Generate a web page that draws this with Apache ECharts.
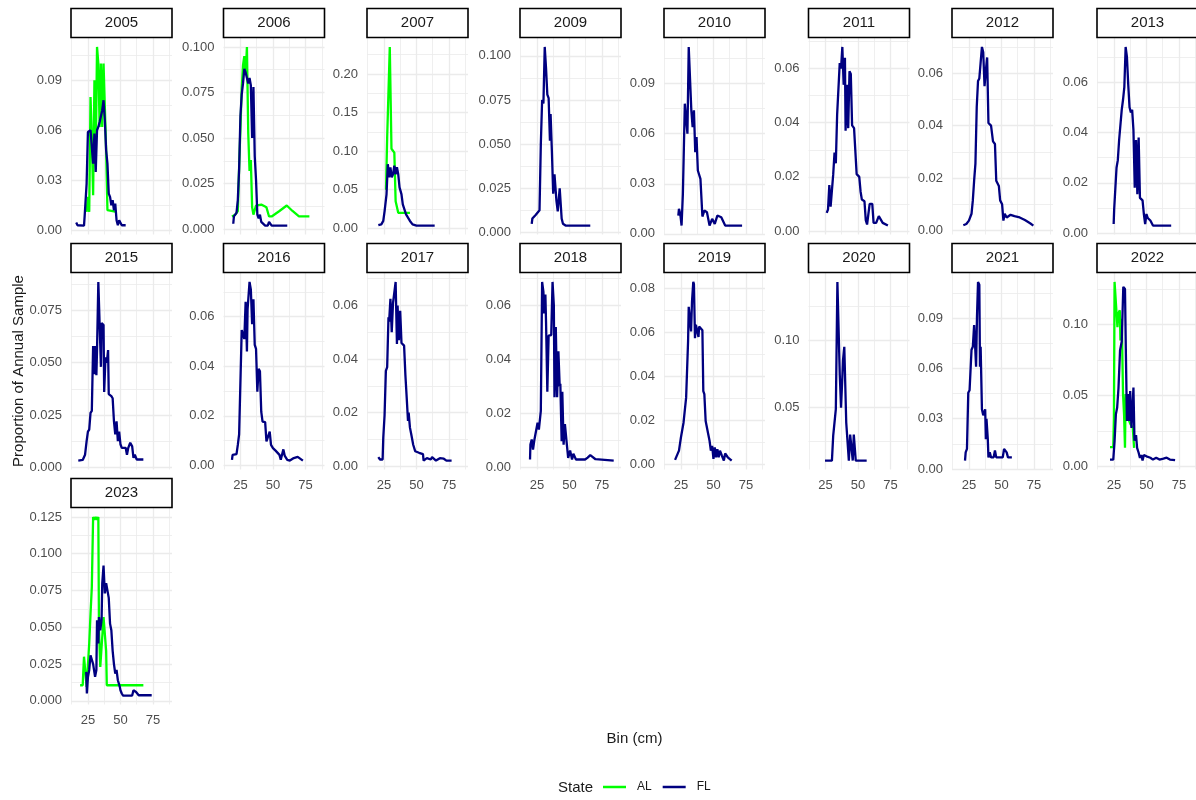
<!DOCTYPE html>
<html><head><meta charset="utf-8">
<script src="https://cdn.jsdelivr.net/npm/echarts@6/dist/echarts.min.js"></script>
<style>html,body{margin:0;padding:0;background:#fff}#c{width:1196px;height:800px}</style>
</head><body><div id="c"></div>
<script>
// ---------- data: [bin (cm), proportion] ----------
const years = ['2005','2006','2007','2009','2010','2011','2012','2013','2015','2016','2017','2018','2019','2020','2021','2022','2023'];

const fl2005 = [[16,0.0046],[17,0.003],[22,0.0028],[22.5,0.0086],[24,0.028],[25,0.059],[26,0.058],[27,0.06],[28,0.06],[29,0.04],[30,0.058],[31,0.035],[32,0.06],[33,0.062],[34,0.065],[35,0.066],[36,0.072],[37,0.078],[38,0.066],[39,0.048],[40,0.04],[41,0.022],[42,0.02],[43,0.015],[44,0.018],[45,0.012],[46,0.016],[47,0.006],[48,0.003],[49,0.006],[50,0.006],[51,0.003],[54,0.003]];
const al2005 = [[24,0.011],[25,0.02],[26,0.011],[27,0.08],[28,0.055],[29,0.021],[30,0.09],[31,0.045],[32,0.11],[33,0.1],[34,0.062],[35,0.1],[36,0.062],[37,0.1],[38,0.1],[39,0.048],[40,0.012],[41,0.011],[47,0.011]];
const fl2006 = [[19.5,0.003],[20,0.007],[21,0.008],[22,0.009],[23,0.016],[24,0.033],[25,0.062],[26,0.074],[27,0.08],[28,0.088],[29,0.086],[30,0.083],[31,0.08],[32,0.083],[33,0.079],[34,0.05],[35,0.078],[36,0.04],[37,0.027],[38,0.008],[39,0.006],[40,0.008],[41,0.004],[42,0.004],[44,0.002],[46,0.002],[47,0.004],[48,0.004],[49,0.002],[61,0.002]];
const al2006 = [[18.5,0.007],[20,0.007],[21,0.008],[23,0.01],[24,0.034],[25,0.055],[26,0.077],[27,0.09],[28,0.095],[29,0.085],[30,0.1],[31,0.053],[32,0.032],[33,0.038],[34,0.012],[35,0.008],[36,0.008],[37,0.013],[41,0.0135],[45,0.012],[47,0.007],[49,0.007],[55,0.01],[60.6,0.013],[65,0.01],[70,0.007],[78,0.007]];
const fl2007 = [[20.7,0.004],[23,0.005],[24.5,0.0095],[25.5,0.022],[27,0.044],[28,0.083],[29,0.066],[30,0.079],[31,0.066],[32,0.07],[33,0.081],[34,0.07],[35,0.079],[36,0.07],[37,0.053],[38.5,0.044],[39.5,0.031],[42,0.018],[45,0.0095],[47,0.005],[50,0.0035],[64,0.0035]];
const al2007 = [[26.6,0.05],[27.5,0.118],[29,0.12],[29.5,0.235],[30.3,0.235],[30.8,0.103],[33,0.098],[34,0.035],[35,0.033],[36,0.02],[45,0.02]];
const fl2009 = [[21,0.005],[21.5,0.008],[24,0.01],[27,0.0126],[28,0.05],[29,0.075],[30,0.073],[31,0.105],[32,0.093],[33,0.078],[34,0.076],[35,0.052],[35.5,0.067],[36.5,0.046],[37.5,0.022],[38.5,0.033],[40,0.018],[41,0.012],[42.5,0.025],[44,0.008],[45,0.005],[47,0.004],[66,0.004]];
const fl2010 = [[23,0.011],[23.5,0.015],[24.5,0.012],[25.5,0.005],[26.5,0.024],[28,0.078],[29,0.077],[30,0.06],[31,0.112],[31.5,0.112],[33,0.074],[34,0.064],[35,0.074],[36,0.049],[37,0.058],[38,0.038],[40,0.033],[41.5,0.0104],[43,0.014],[45,0.013],[47,0.005],[49,0.009],[51,0.006],[53,0.011],[56,0.01],[59,0.005],[72,0.005]];
const fl2011 = [[26,0.0067],[27,0.008],[28,0.017],[29,0.009],[30,0.015],[31,0.021],[32,0.029],[33,0.025],[34,0.043],[35,0.043],[36,0.062],[37,0.06],[38,0.068],[39,0.054],[40,0.064],[40.5,0.037],[41.5,0.054],[42.5,0.038],[43.5,0.059],[44.5,0.058],[45.5,0.039],[47,0.038],[49,0.021],[51,0.02],[52,0.0146],[53,0.0116],[55,0.011],[56,0.004],[57,0.0024],[59,0.01],[61,0.01],[62,0.003],[64,0.003],[66,0.0055],[69,0.003],[73,0.002]];
const fl2012 = [[20.7,0.002],[23,0.0025],[25,0.0038],[27,0.0064],[28,0.0115],[29,0.019],[30,0.0255],[31,0.047],[32,0.057],[33,0.058],[34,0.064],[35,0.07],[36,0.068],[37,0.055],[38,0.061],[39,0.066],[40,0.041],[42,0.04],[43.5,0.034],[45,0.033],[46,0.019],[48,0.017],[49,0.0115],[50.5,0.01],[51.5,0.0038],[52.5,0.0064],[54,0.005],[57,0.006],[60,0.0055],[64,0.005],[68,0.004],[72,0.0028],[74.5,0.0019]];
const fl2013 = [[24.8,0.0036],[25.2,0.0096],[26,0.009],[27,0.026],[28,0.029],[29,0.037],[31,0.049],[32,0.053],[33,0.058],[34,0.074],[35,0.07],[36,0.059],[37,0.05],[38,0.048],[39,0.049],[40,0.041],[41,0.018],[42,0.037],[43,0.0155],[44,0.038],[45,0.014],[47,0.013],[48,0.0076],[49,0.0036],[50,0.0076],[51,0.006],[53,0.005],[55,0.003],[69,0.003]];
const fl2015 = [[17.6,0.0032],[21,0.0035],[22.8,0.006],[24,0.0125],[25,0.017],[26,0.018],[27,0.026],[28,0.027],[29,0.058],[30,0.0445],[30.5,0.058],[31.5,0.044],[32,0.056],[33,0.0886],[34,0.088],[35,0.048],[35.5,0.069],[37,0.068],[37.5,0.036],[38.5,0.0526],[39.5,0.05],[40.5,0.056],[41,0.035],[43,0.034],[44,0.033],[45,0.022],[46,0.0157],[47,0.022],[48,0.0125],[49,0.017],[50,0.011],[51,0.0093],[54,0.0093],[55,0.006],[56,0.0093],[57.5,0.0117],[59,0.01],[60,0.0045],[61,0.006],[62.5,0.0037],[67.6,0.0037]];
const fl2016 = [[18.5,0.0023],[19,0.0043],[22,0.0046],[23,0.0083],[24,0.0126],[25,0.0126],[26,0.0546],[27,0.054],[28,0.051],[29,0.066],[30,0.046],[30.5,0.063],[32,0.074],[33,0.071],[34,0.057],[35,0.067],[36,0.0486],[37,0.047],[38,0.0298],[39,0.039],[40,0.038],[41,0.0217],[42,0.0177],[44,0.0175],[45,0.0097],[46.5,0.009],[47.5,0.0137],[48.5,0.0083],[50,0.007],[52,0.006],[55,0.0043],[56,0.0023],[58,0.0065],[59,0.004],[61,0.0023],[63,0.002],[66,0.003],[69,0.0035],[73,0.002]];
const fl2017 = [[20.7,0.0034],[22,0.0025],[24,0.0025],[24.5,0.0106],[25.5,0.019],[26.5,0.0356],[27.5,0.037],[28.5,0.0556],[29,0.054],[30,0.0625],[31,0.05],[32,0.061],[33,0.061],[34,0.0688],[35,0.0456],[35.5,0.06],[36.5,0.047],[37.5,0.058],[38.5,0.046],[40.5,0.045],[41.5,0.034],[42.5,0.0256],[43.5,0.0169],[44,0.02],[45,0.0144],[46,0.0119],[47.5,0.008],[49,0.0056],[52,0.005],[55,0.0045],[55.5,0.0021],[58,0.003],[61,0.0025],[62,0.0034],[65,0.0021],[68,0.003],[71,0.0028],[73,0.0021],[77,0.0021]];
const fl2018 = [[19.7,0.0029],[20,0.0084],[21,0.0103],[22,0.0066],[23,0.01],[24,0.0103],[25.5,0.0165],[26.5,0.014],[28,0.0209],[29,0.0687],[30,0.065],[30.5,0.057],[31.5,0.064],[32,0.054],[33,0.028],[34,0.0488],[35,0.0488],[36,0.049],[37,0.0687],[38,0.06],[38.5,0.026],[39.5,0.052],[40.5,0.026],[41.5,0.043],[42.5,0.03],[43,0.031],[44,0.0097],[44.5,0.028],[45.5,0.0084],[46.5,0.016],[48,0.0084],[49,0.0035],[50.5,0.0062],[52,0.0029],[53,0.005],[55,0.0029],[62,0.0029],[64,0.0036],[66,0.0045],[67,0.0047],[70,0.003],[84,0.0025]];
const fl2019 = [[20.5,0.0021],[22,0.0025],[23.5,0.0063],[24.5,0.007],[25,0.0123],[26,0.013],[27,0.019],[28,0.019],[29,0.0304],[30,0.03],[30.5,0.056],[31,0.0717],[32,0.071],[32.8,0.0605],[33.5,0.074],[34.5,0.083],[35,0.082],[35.8,0.0574],[36.5,0.0635],[37.5,0.0635],[38.5,0.058],[39,0.0627],[40.5,0.0627],[41.5,0.061],[42.2,0.0334],[43,0.032],[44,0.0198],[45,0.019],[46,0.0138],[47,0.0108],[48,0.0063],[49,0.0085],[50,0.0026],[51,0.0078],[52,0.0033],[53,0.007],[54,0.0033],[55,0.0063],[56.5,0.004],[58,0.0018],[59,0.005],[61,0.0033],[64,0.0018]];
const fl2020 = [[24.7,0.0108],[30,0.0108],[31,0.0295],[32,0.03],[33,0.0488],[33.5,0.0488],[34.2,0.143],[35.3,0.143],[36,0.075],[37,0.05],[38,0.0725],[38.5,0.085],[39.5,0.095],[40.5,0.095],[41,0.0388],[42.3,0.0388],[43,0.0108],[44,0.03],[45,0.03],[46,0.0108],[46.8,0.03],[47.5,0.03],[48.3,0.0108],[56.7,0.0108]];
const fl2021 = [[22,0.005],[22.5,0.0099],[23.5,0.012],[24.5,0.0455],[25.5,0.047],[27,0.0712],[28,0.073],[29,0.086],[30,0.087],[30.5,0.061],[31.2,0.091],[32,0.1117],[33,0.11],[33.5,0.061],[34,0.073],[35,0.0356],[36,0.032],[37.5,0.0356],[38,0.0178],[38.5,0.03],[39.5,0.0178],[40,0.0069],[41,0.0099],[42,0.0069],[44,0.0069],[45,0.011],[46,0.0069],[51,0.0069],[52,0.0119],[54,0.0099],[55,0.0069],[58,0.0069]];
const fl2022 = [[22,0.0047],[24.5,0.0047],[25.5,0.0177],[26.5,0.0366],[27.5,0.0414],[28.5,0.055],[29.7,0.0816],[31,0.088],[32.2,0.1265],[33.5,0.125],[34.2,0.079],[35,0.032],[35.8,0.051],[36.8,0.032],[37.5,0.053],[38.5,0.027],[39.3,0.041],[40,0.0555],[40.8,0.018],[42,0.022],[42.8,0.013],[44,0.0095],[45,0.0059],[46,0.008],[47,0.004],[48,0.008],[50,0.007],[53,0.006],[55,0.0047],[57.5,0.006],[60,0.0047],[63,0.0054],[65.5,0.006],[68,0.0047],[72,0.0043]];
const al2022 = [[22,0.0135],[24.5,0.0135],[25,0.034],[25.5,0.13],[27,0.129],[27.7,0.098],[28.3,0.1075],[29.5,0.11],[30,0.0887],[31,0.104],[32,0.051],[32.8,0.0366],[33.5,0.013],[34,0.051],[35.5,0.035],[37.5,0.03],[39.5,0.027],[40.5,0.013]];
const fl2023 = [[23.7,0.0197],[24.2,0.005],[25,0.016],[26,0.021],[27,0.031],[28,0.03],[29,0.025],[30.5,0.0163],[31.5,0.021],[32,0.0548],[33,0.039],[33.5,0.057],[34.5,0.048],[35.5,0.055],[36,0.0797],[37,0.092],[38,0.073],[39,0.08],[40,0.08],[41,0.07],[42,0.0525],[43,0.048],[44,0.034],[45,0.025],[46,0.0186],[47,0.021],[48,0.014],[49.5,0.0095],[50,0.0072],[51,0.005],[52,0.0036],[59,0.0036],[60,0.0072],[62,0.006],[64,0.0038],[74,0.0038]];
const al2023 = [[19,0.0106],[21,0.0106],[21.5,0.021],[22,0.03],[23,0.029],[24,0.0095],[25,0.0106],[26,0.039],[27,0.059],[28,0.0775],[29,0.125],[30,0.123],[31,0.125],[32,0.123],[33,0.125],[33.5,0.048],[34.5,0.023],[36,0.022],[37,0.057],[38,0.057],[39,0.034],[39.5,0.0106],[67.6,0.0106]];

// ---------- tick labels ----------
const xTicks = [25, 50, 75];
const yTicks2005 = [0, 0.03, 0.06, 0.09];
const yTicks2006 = [0, 0.025, 0.05, 0.075, 0.1];
const yTicks2007 = [0, 0.05, 0.1, 0.15, 0.2];
const yTicks2009 = [0, 0.025, 0.05, 0.075, 0.1];
const yTicks2010 = [0, 0.03, 0.06, 0.09];
const yTicks2011 = [0, 0.02, 0.04, 0.06];
const yTicks2012 = [0, 0.02, 0.04, 0.06];
const yTicks2013 = [0, 0.02, 0.04, 0.06];
const yTicks2015 = [0, 0.025, 0.05, 0.075];
const yTicks2016 = [0, 0.02, 0.04, 0.06];
const yTicks2017 = [0, 0.02, 0.04, 0.06];
const yTicks2018 = [0, 0.02, 0.04, 0.06];
const yTicks2019 = [0, 0.02, 0.04, 0.06, 0.08];
const yTicks2020 = [0.05, 0.1];
const yTicks2021 = [0, 0.03, 0.06, 0.09];
const yTicks2022 = [0, 0.05, 0.1];
const yTicks2023 = [0, 0.025, 0.05, 0.075, 0.1, 0.125];

const flData = [fl2005,fl2006,fl2007,fl2009,fl2010,fl2011,fl2012,fl2013,fl2015,fl2016,fl2017,fl2018,fl2019,fl2020,fl2021,fl2022,fl2023];
const alData = [al2005,al2006,al2007,null,null,null,null,null,null,null,null,null,null,null,null,al2022,al2023];
const yTicks = [yTicks2005,yTicks2006,yTicks2007,yTicks2009,yTicks2010,yTicks2011,yTicks2012,yTicks2013,yTicks2015,yTicks2016,yTicks2017,yTicks2018,yTicks2019,yTicks2020,yTicks2021,yTicks2022,yTicks2023];
const yDecimals = [2,3,2,3,2,2,2,2,3,2,2,2,2,2,2,2,3];

// ---------- layout ----------
const FONT = "'Liberation Sans', Arial, Helvetica, sans-serif";
const colLeft = [71, 223.5, 367, 520, 664, 808.5, 952, 1097];
const rowTop = [38, 273, 508];
const PW = 101, PH = 196.5, STRIP = 29;
const X_MIN = 12, X_MAX = 89.6;
const AL_COLOR = '#00ff00', FL_COLOR = '#000080';
const GRID_COLOR = '#ebebeb';
const LINE_W = 2.3;

const grids = [], xAxes = [], yAxes = [], series = [], graphics = [];

years.forEach((yr, i) => {
  const col = i % 8, row = Math.floor(i / 8);
  const left = colLeft[col], top = rowTop[row];
  grids.push({left, top, width: PW, height: PH, containLabel: false, outerBoundsMode: 'none'});

  const showX = (i + 8 >= years.length);
  const xMinor = [12.5, 37.5, 62.5, 87.5];
  xAxes.push({
    gridIndex: i, type: 'value', min: X_MIN, max: X_MAX, position: 'bottom',
    axisLine: {show: false}, axisTick: {show: false, customValues: xTicks},
    axisLabel: {show: showX, customValues: xTicks, margin: 9, color: '#4d4d4d', fontSize: 13, fontFamily: FONT},
    splitLine: {show: true, lineStyle: {color: GRID_COLOR, width: 1.3}}
  });
  xAxes.push({
    gridIndex: i, type: 'value', min: X_MIN, max: X_MAX, position: 'top',
    axisLine: {show: false}, axisTick: {show: false, customValues: xMinor},
    axisLabel: {show: false},
    splitLine: {show: true, lineStyle: {color: GRID_COLOR, width: 0.8}}
  });

  const fl = flData[i], al = alData[i];
  let lo = Infinity, hi = -Infinity;
  [fl, al].forEach(s => { if (s) s.forEach(p => { lo = Math.min(lo, p[1]); hi = Math.max(hi, p[1]); }); });
  const pad = (hi - lo) * 0.05;
  const yMin = lo - pad, yMax = hi + pad;
  const t = yTicks[i];
  const ys = t.length > 1 ? t[1] - t[0] : 0.05;
  const yMinor = [t[0] - ys / 2].concat(t.map(v => v + ys / 2));
  const dec = yDecimals[i];
  yAxes.push({
    gridIndex: i, type: 'value', min: yMin, max: yMax, position: 'left',
    axisLine: {show: false}, axisTick: {show: false, customValues: t},
    axisLabel: {show: true, customValues: t, margin: 9, color: '#4d4d4d', fontSize: 13, fontFamily: FONT,
      formatter: v => Number(v).toFixed(dec)},
    splitLine: {show: true, lineStyle: {color: GRID_COLOR, width: 1.3}}
  });
  yAxes.push({
    gridIndex: i, type: 'value', min: yMin, max: yMax, position: 'right',
    axisLine: {show: false}, axisTick: {show: false, customValues: yMinor},
    axisLabel: {show: false},
    splitLine: {show: true, lineStyle: {color: GRID_COLOR, width: 0.8}}
  });

  if (al) series.push({
    type: 'line', name: 'AL', xAxisIndex: 2 * i, yAxisIndex: 2 * i, data: al,
    symbol: 'none', showSymbol: false, silent: true, animation: false,
    lineStyle: {width: LINE_W, color: AL_COLOR}, itemStyle: {color: AL_COLOR}, z: 3
  });
  series.push({
    type: 'line', name: 'FL', xAxisIndex: 2 * i, yAxisIndex: 2 * i, data: fl,
    symbol: 'none', showSymbol: false, silent: true, animation: false,
    lineStyle: {width: LINE_W, color: FL_COLOR}, itemStyle: {color: FL_COLOR}, z: 4
  });

  // strip
  graphics.push({
    type: 'rect', silent: true, z: 10,
    shape: {x: left, y: top - STRIP - 0.5, width: PW, height: STRIP},
    style: {fill: '#ffffff', stroke: '#000000', lineWidth: 1.6}
  });
  graphics.push({
    type: 'text', silent: true, z: 11, x: left + PW / 2, y: top - STRIP / 2 - 0.5,
    style: {text: yr, fontSize: 15, fontFamily: FONT, fill: '#1a1a1a',
      align: 'center', verticalAlign: 'middle', textAlign: 'center', textVerticalAlign: 'middle'}
  });
});

// axis titles & legend title
graphics.push({
  type: 'text', silent: true, x: 19, y: 371, rotation: Math.PI / 2,
  style: {text: 'Proportion of Annual Sample', fontSize: 15, fontFamily: FONT, fill: '#1a1a1a',
    align: 'center', verticalAlign: 'middle', textAlign: 'center', textVerticalAlign: 'middle'}
});
graphics.push({
  type: 'text', silent: true, x: 634.5, y: 739,
  style: {text: 'Bin (cm)', fontSize: 15, fontFamily: FONT, fill: '#1a1a1a',
    align: 'center', verticalAlign: 'middle', textAlign: 'center', textVerticalAlign: 'middle'}
});
graphics.push({
  type: 'text', silent: true, x: 558, y: 788,
  style: {text: 'State', fontSize: 15, fontFamily: FONT, fill: '#1a1a1a',
    align: 'left', verticalAlign: 'middle', textAlign: 'left', textVerticalAlign: 'middle'}
});

const chart = echarts.init(document.getElementById('c'), null, {renderer: 'canvas'});
chart.setOption({
  backgroundColor: '#ffffff',
  animation: false,
  grid: grids,
  xAxis: xAxes,
  yAxis: yAxes,
  legend: {
    left: 603, top: 781, padding: 0, itemWidth: 23, itemHeight: 2.5, itemGap: 11, icon: 'rect',
    selectedMode: false,
    textStyle: {fontSize: 12, color: '#1a1a1a', fontFamily: FONT, padding: [0, 0, 0, 6]},
    data: [{name: 'AL', itemStyle: {color: AL_COLOR}}, {name: 'FL', itemStyle: {color: FL_COLOR}}]
  },
  series: series,
  graphic: graphics
});
</script>
</body></html>
